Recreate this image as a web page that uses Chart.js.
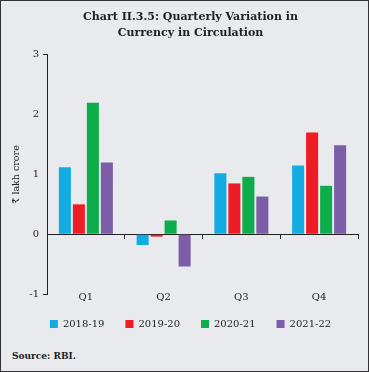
<!DOCTYPE html>
<html>
<head>
<meta charset="utf-8">
<script src="https://cdn.jsdelivr.net/npm/chart.js@4"></script>
<style>
  body { margin: 0; background: #fff; }
  #box { position: relative; width: 369px; height: 372px; box-sizing: border-box;
         border: 1px solid #333; background: #E9EAEE; }
  #wrap { position: absolute; left: 0; top: 0; width: 367px; height: 338px; }
  #src { position: absolute; left: 11px; top: 350px; font: bold 9px "DejaVu Serif", serif; color: #222; }
</style>
</head>
<body>
<div id="box">
  <div id="wrap"><canvas id="chart"></canvas></div>
  <div id="src">Source: RBI.</div>
</div>
<script>
// data
const quarters = ["Q1", "Q2", "Q3", "Q4"];
const years = ["2018-19", "2019-20", "2020-21", "2021-22"];
const v2018 = [1.12, -0.18, 1.02, 1.15];
const v2019 = [0.50, -0.04, 0.85, 1.70];
const v2020 = [2.20, 0.23, 0.96, 0.81];
const v2021 = [1.20, -0.54, 0.63, 1.49];
const yTicks = [-1, 0, 1, 2, 3];
const colours = ["#12ACE3", "#EE1C25", "#0EAD4B", "#7B5EA7"];

const serif = "'DejaVu Serif', serif";
const values = [v2018, v2019, v2020, v2021];

window.onload = function(){

  const ctx = document.getElementById("chart");

  new Chart(ctx, {
    type: "bar",
    data: {
      labels: quarters,
      datasets: years.map(function(y, i){
        return {
          label: y,
          data: values[i],
          backgroundColor: colours[i],
          categoryPercentage: 0.72,
          barPercentage: 0.86
        };
      })
    },
    options: {
      responsive: true,
      maintainAspectRatio: false,
      animation: false,
      layout: { padding: { top: 6, right: 10, left: 22, bottom: 0 } },
      plugins: {
        title: {
          display: true,
          text: ["Chart II.3.5: Quarterly Variation in", "Currency in Circulation"],
          font: { family: serif, size: 11, weight: "bold", lineHeight: 1.45 },
          color: "#222",
          padding: { top: 2, bottom: 14 }
        },
        legend: {
          position: "bottom",
          labels: {
            boxWidth: 8, boxHeight: 8, padding: 21,
            font: { family: serif, size: 10 }, color: "#222"
          }
        },
        tooltip: { enabled: false }
      },
      scales: {
        x: {
          grid: { display: false },
          border: { display: false },
          afterFit: function(s){ s.height = 4; },
          ticks: { mirror: true, font: { family: serif, size: 10 }, color: "#222", padding: -9 }
        },
        xZero: {
          type: "category",
          labels: quarters,
          position: { y: 0 },
          grid: {
            offset: true, drawOnChartArea: false, tickLength: 4,
            color: function(c){ return c.index === 0 ? "rgba(0,0,0,0)" : "#222"; }
          },
          border: { display: true, color: "#222", width: 1 },
          ticks: { display: false }
        },
        y: {
          min: -1, max: 3,
          afterBuildTicks: function(s){ s.ticks = yTicks.map(function(v){ return { value: v }; }); },
          afterFit: function(s){ s.width = 24; },
          grid: {
            drawOnChartArea: false, tickLength: 4,
            color: function(c){ return (c.tick && (c.tick.value === 3 || c.tick.value === -1)) ? "#222" : "rgba(0,0,0,0)"; }
          },
          border: { display: true, color: "#222" },
          ticks: { font: { family: serif, size: 10 }, color: "#222", padding: 4 },
          title: {
            display: true, text: "₹ lakh crore",
            font: { family: serif, size: 9.5 }, color: "#222", padding: { top: -12, bottom: 0 }
          }
        }
      }
    }
  });
}
</script>
</body>
</html>
